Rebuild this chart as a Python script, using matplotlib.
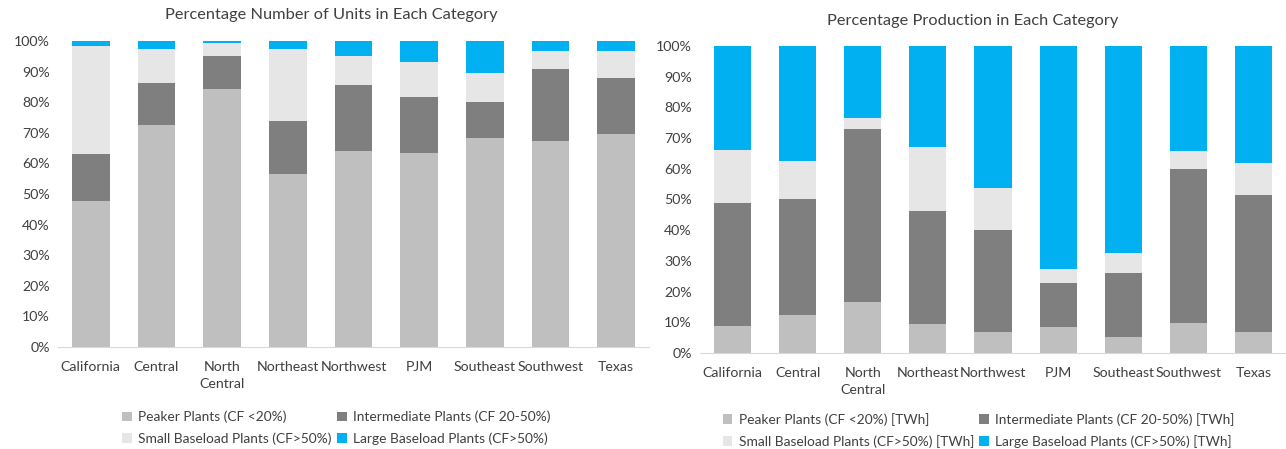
import matplotlib
matplotlib.use("Agg")
import matplotlib.pyplot as plt
from matplotlib.patches import Patch
from matplotlib.ticker import PercentFormatter

plt.rcParams['font.family'] = ['Lato', 'DejaVu Sans']

regions = ["California", "Central", "North\nCentral", "Northeast", "Northwest",
           "PJM", "Southeast", "Southwest", "Texas"]

# Share of units by capacity-factor category (%)
units_peaker = [47.8, 72.7, 84.4, 56.6, 64.1, 63.4, 68.4, 67.4, 69.5]
units_intermediate = [15.4, 13.5, 10.8, 17.4, 21.6, 18.4, 11.6, 23.5, 18.3]
units_small_base = [35.3, 11.1, 4.3, 23.5, 9.5, 11.4, 9.7, 5.9, 8.8]
units_large_base = [1.5, 2.7, 0.5, 2.5, 4.8, 6.8, 10.3, 3.2, 3.4]

# Share of production by capacity-factor category (%)
prod_peaker = [8.7, 12.5, 16.7, 9.6, 6.7, 8.6, 5.1, 9.9, 7.0]
prod_intermediate = [40.0, 37.5, 56.3, 36.7, 33.3, 14.2, 21.0, 49.9, 44.5]
prod_small_base = [17.3, 12.4, 3.7, 20.9, 13.8, 4.4, 6.4, 6.1, 10.5]
prod_large_base = [34.0, 37.6, 23.3, 32.8, 46.2, 72.8, 67.5, 34.1, 38.0]

colors = ["#BFBFBF", "#7F7F7F", "#E7E6E6", "#00B0F0"]
text_color = "#404040"

units_labels = ["Peaker Plants (CF <20%)", "Intermediate Plants (CF 20-50%)",
                "Small Baseload Plants (CF>50%)", "Large Baseload Plants (CF>50%)"]
prod_labels = ["Peaker Plants (CF <20%) [TWh]", "Intermediate Plants (CF 20-50%) [TWh]",
               "Small Baseload Plants (CF>50%) [TWh]", "Large Baseload Plants (CF>50%) [TWh]"]

fig = plt.figure(figsize=(12.86, 4.49), dpi=100)

ax1 = fig.add_axes([0.0451, 0.2272, 0.4596, 0.6815])
ax2 = fig.add_axes([0.5443, 0.2138, 0.4557, 0.6838])


def stacked(ax, series, title, title_x, title_y):
    x = range(len(regions))
    bottom = [0.0] * len(regions)
    for vals, c in zip(series, colors):
        ax.bar(x, vals, bottom=bottom, width=0.57, color=c, linewidth=0)
        bottom = [b + v for b, v in zip(bottom, vals)]
    ax.set_xlim(-0.5, 8.5)
    ax.set_ylim(0, 100)
    ax.set_yticks(range(0, 101, 10))
    ax.yaxis.set_major_formatter(PercentFormatter(decimals=0))
    ax.set_xticks(list(x))
    ax.set_xticklabels(regions, va="top", linespacing=1.5)
    for s in ("top", "right", "left"):
        ax.spines[s].set_visible(False)
    ax.spines["bottom"].set_color("#D9D9D9")
    ax.tick_params(axis="both", length=0, labelsize=10.2, colors=text_color)
    ax.tick_params(axis="x", pad=10)
    ax.tick_params(axis="y", pad=6)
    fig.text(title_x, title_y, title, ha="center", va="center",
             fontsize=11.8, color=text_color)


stacked(ax1, [units_peaker, units_intermediate, units_small_base, units_large_base],
        "Percentage Number of Units in Each Category", 0.2574, 0.966)
stacked(ax2, [prod_peaker, prod_intermediate, prod_small_base, prod_large_base],
        "Percentage Production in Each Category", 0.7566, 0.953)


def legend(labels, anchor):
    handles = [Patch(facecolor=c, edgecolor="none") for c in colors]
    # two columns filled row by row
    order = [0, 2, 1, 3]
    fig.legend([handles[i] for i in order], [labels[i] for i in order],
               loc="upper left", bbox_to_anchor=anchor, ncol=2,
               frameon=False, fontsize=9.9, handlelength=0.7, handleheight=0.7,
               handletextpad=0.45, columnspacing=0.4, labelspacing=0.65,
               labelcolor=text_color, borderaxespad=0, borderpad=0)


legend(units_labels, (0.095, 0.085))
legend(prod_labels, (0.562, 0.081))

fig.savefig("out.png", dpi=100, facecolor="white")
